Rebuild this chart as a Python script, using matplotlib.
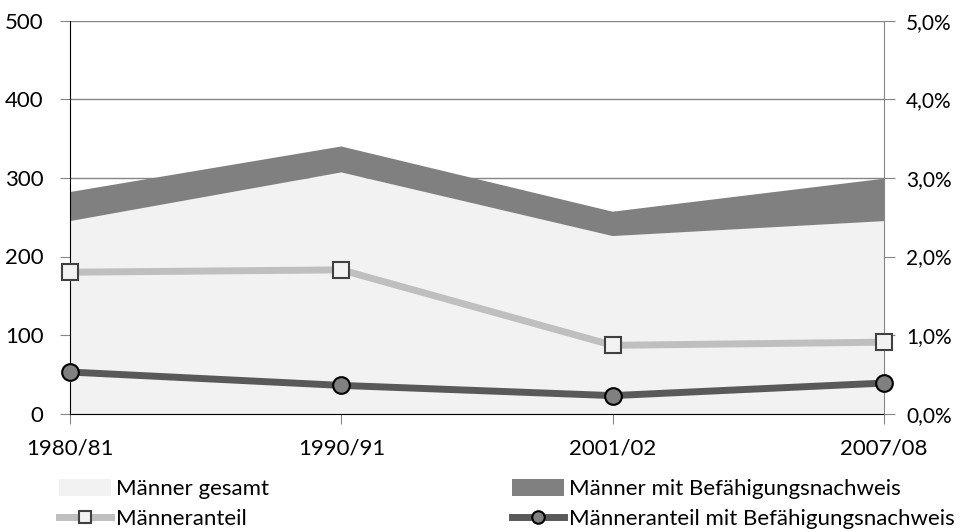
import matplotlib
matplotlib.use("Agg")
import matplotlib.pyplot as plt
from matplotlib.ticker import FuncFormatter, MultipleLocator
from matplotlib.patches import Patch
from matplotlib.lines import Line2D

categories = ["1980/81", "1990/91", "2001/02", "2007/08"]
maenner_gesamt = [245, 307, 226, 245]
maenner_befaehigung = [37, 33, 31, 54]
maenneranteil = [0.0180, 0.0183, 0.0087, 0.0091]
maenneranteil_befaehigung = [0.0053, 0.0036, 0.0023, 0.0039]

plt.rcParams['font.family'] = ['Lato', 'DejaVu Sans']
FS = 16

fig = plt.figure(figsize=(9.61, 5.32), dpi=100)
ax = fig.add_axes([70/961, 118.3/532, 814/961, 393/532])
x = list(range(len(categories)))

ax.stackplot(x, maenner_gesamt, maenner_befaehigung,
             colors=["#f2f2f2", "#808080"], linewidth=0, zorder=2)
ax.set_xlim(0, 3)
ax.set_ylim(0, 500)
ax.yaxis.set_major_locator(MultipleLocator(100))
ax.grid(axis='y', color='#868686', linewidth=1, zorder=1)
ax.set_axisbelow(True)
ax.set_xticks(x)
ax.set_xticklabels(categories)
ax.tick_params(axis='x', direction='out', length=7, color='#868686', pad=11, labelsize=FS)
ax.tick_params(axis='y', direction='out', length=7, color='#868686', pad=12, labelsize=FS)
for s in ['top', 'right']:
    ax.spines[s].set_visible(False)
ax.spines['left'].set_color('black')
ax.spines['bottom'].set_color('black')
ax.spines['left'].set_zorder(5)

ax2 = ax.twinx()
ax2.set_ylim(0, 0.05)
ax2.yaxis.set_major_locator(MultipleLocator(0.01))
ax2.yaxis.set_major_formatter(FuncFormatter(lambda v, p: f"{v*100:.1f}%".replace('.', ',')))
ax2.tick_params(axis='y', direction='out', length=8, color='#868686', pad=8, labelsize=15)
for s in ['top', 'left', 'bottom']:
    ax2.spines[s].set_visible(False)
ax2.spines['right'].set_color('#868686')

ax2.plot(x, maenneranteil, color='#bfbfbf', linewidth=5, marker='s', markersize=11.5,
         markerfacecolor='#f2f2f2', markeredgecolor='#404040', markeredgewidth=1.5,
         clip_on=False, zorder=4)
ax2.plot(x, maenneranteil_befaehigung, color='#595959', linewidth=5, marker='o', markersize=12,
         markerfacecolor='#808080', markeredgecolor='black', markeredgewidth=1.5,
         clip_on=False, zorder=4)

h1 = Patch(facecolor='#f2f2f2', edgecolor='none')
h2 = Patch(facecolor='#808080', edgecolor='none')
h3 = Line2D([], [], color='#bfbfbf', linewidth=5, marker='s', markersize=9,
            markerfacecolor='#f2f2f2', markeredgecolor='#404040', markeredgewidth=1.5)
h4 = Line2D([], [], color='#595959', linewidth=5, marker='o', markersize=9,
            markerfacecolor='#808080', markeredgecolor='black', markeredgewidth=1.5)

kw = dict(loc='upper left', frameon=False, fontsize=FS, handlelength=2.35,
          handletextpad=0.2, labelspacing=0.45, borderpad=0, borderaxespad=0, handleheight=0.8)
fig.legend([h1, h3], ["Männer gesamt", "Männeranteil"],
           bbox_to_anchor=(59/961, 1 - 479/532), **kw)
fig.legend([h2, h4], ["Männer mit Befähigungsnachweis", "Männeranteil mit Befähigungsnachweis"],
           bbox_to_anchor=(512/961, 1 - 479/532), **kw)

fig.savefig("out.png", dpi=100)
